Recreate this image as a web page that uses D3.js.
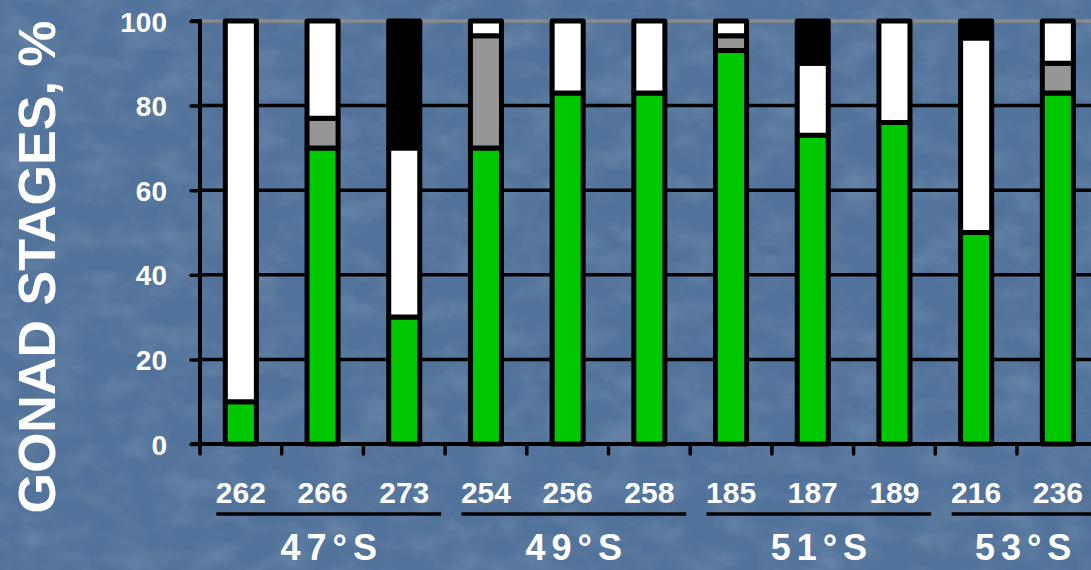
<!DOCTYPE html>
<html>
<head>
<meta charset="utf-8">
<script src="https://cdn.jsdelivr.net/npm/d3@7"></script>
<style>
  html, body { margin: 0; padding: 0; background: #52739a; overflow: hidden; }
  svg { display: block; }
  text { font-family: "Liberation Sans", Arial, sans-serif; font-weight: bold; fill: #fff; }
</style>
</head>
<body>
<div id="chart"></div>
<script>
// Sample numbers (stations) and their latitude groups
const categories = ["262", "266", "273", "254", "256", "258", "185", "187", "189", "216", "236"];
const groupNames = ["47°S", "49°S", "51°S", "53°S"];
const groupIndex = [0, 0, 0, 1, 1, 1, 2, 2, 2, 3, 3];

// Share of each gonad stage, % (stacked bottom to top)
const stageGreen = [10, 70, 30, 70, 83, 83, 93, 73, 76, 50, 83];
const stageGray  = [0, 7, 0, 26.5, 0, 0, 3.5, 0, 0, 0, 7];
const stageWhite = [90, 23, 40, 3.5, 17, 17, 3.5, 17, 24, 46, 10];
const stageBlack = [0, 0, 30, 0, 0, 0, 0, 10, 0, 4, 0];

const yTicks = [0, 20, 40, 60, 80, 100];
const yTitle = "GONAD STAGES, %";

const W = 1091, H = 570;
const svg = d3.select("#chart").append("svg").attr("width", W).attr("height", H);

// Mottled blue backdrop
const defs = svg.append("defs");
const f = defs.append("filter").attr("id", "mottle").attr("x", 0).attr("y", 0).attr("width", 1).attr("height", 1);
f.append("feTurbulence").attr("type", "fractalNoise").attr("baseFrequency", "0.025 0.04").attr("numOctaves", 4).attr("seed", 3);
f.append("feColorMatrix").attr("type", "matrix")
  .attr("values", "0 0 0 0 1  0 0 0 0 1  0 0 0 0 1  1.6 0 0 0 -0.62");
svg.append("rect").attr("width", W).attr("height", H).attr("fill", "#51729a");
svg.append("rect").attr("width", W).attr("height", H).attr("filter", "url(#mottle)").attr("opacity", 0.15);

const x0 = 200, y0 = 444, yTop = 21;
const x = d3.scaleBand().domain(categories).range([x0, x0 + categories.length * 81.7]).padding(0);
const y = d3.scaleLinear().domain([0, 100]).range([y0, yTop]);
const barW = x.step() * 0.38;

// Horizontal gridlines (top one grey)
svg.append("g").selectAll("line").data(yTicks.filter(d => d > 0)).join("line")
  .attr("x1", x0).attr("x2", W)
  .attr("y1", d => y(d)).attr("y2", d => y(d))
  .attr("stroke", d => d === 100 ? "#8a8a8a" : "#000")
  .attr("stroke-width", 3.5);

// Y axis
const yAxis = svg.append("g").attr("transform", `translate(${x0},0)`)
  .call(d3.axisLeft(y).tickValues(yTicks).tickSize(9).tickPadding(24));
yAxis.select(".domain").attr("stroke", "#000").attr("stroke-width", 4).attr("d", `M-9,${yTop}H0V${y0}`);
yAxis.selectAll(".tick line").attr("stroke", "#000").attr("stroke-width", 3.5).attr("stroke-linecap", "round");
yAxis.selectAll(".tick text").attr("font-size", 28).attr("fill", "#fff").attr("dy", "0.36em")
  .style("font-family", "'Liberation Sans', Arial, sans-serif").style("font-weight", "bold");

// Stacked bars
const stages = [
  { key: "green", values: stageGreen, color: "#00c800" },
  { key: "gray",  values: stageGray,  color: "#969696" },
  { key: "white", values: stageWhite, color: "#ffffff" },
  { key: "black", values: stageBlack, color: "#000000" }
];
const rows = categories.map((c, i) => {
  const r = { cat: c };
  stages.forEach(s => r[s.key] = s.values[i]);
  return r;
});
const stack = d3.stack().keys(stages.map(s => s.key))(rows);
const barG = svg.append("g");
stack.forEach((layer, li) => {
  barG.append("g").selectAll("rect")
    .data(layer.filter(d => d[1] - d[0] > 0))
    .join("rect")
    .attr("x", d => x(d.data.cat) + (x.step() - barW) / 2)
    .attr("width", barW)
    .attr("y", d => y(d[1]))
    .attr("height", d => y(d[0]) - y(d[1]))
    .attr("fill", stages[li].color)
    .attr("stroke", "#000")
    .attr("stroke-width", 5)
    .attr("stroke-linejoin", "round");
});

// X axis with ticks between stations
const boundaries = categories.map(c => x(c));
const xAxis = svg.append("g");
xAxis.append("line").attr("x1", x0 - 9).attr("x2", W).attr("y1", y0).attr("y2", y0)
  .attr("stroke", "#000").attr("stroke-width", 4);
xAxis.selectAll("line.tk").data(boundaries.concat([x.range()[1]])).join("line").attr("class", "tk")
  .attr("x1", d => d).attr("x2", d => d).attr("y1", y0).attr("y2", y0 + 10)
  .attr("stroke", "#000").attr("stroke-width", 3.5).attr("stroke-linecap", "round");

// Station labels
svg.append("g").selectAll("text").data(categories).join("text")
  .attr("x", d => x(d) + x.step() / 2).attr("y", 503)
  .attr("text-anchor", "middle").attr("font-size", 30).text(d => d);

// Latitude groups: underline + label
groupNames.forEach((g, gi) => {
  const members = categories.filter((c, i) => groupIndex[i] === gi);
  const gx1 = x(members[0]) + x.step() * 0.2;
  const gx2 = x(members[members.length - 1]) + x.step() * 0.95;
  svg.append("line").attr("x1", gx1).attr("x2", gx2).attr("y1", 514).attr("y2", 514)
    .attr("stroke", "#000").attr("stroke-width", 3.5);
  svg.append("text").attr("x", (gx1 + gx2) / 2 + 3).attr("y", 560)
    .attr("text-anchor", "middle").attr("font-size", 36).attr("letter-spacing", 6).text(g);
});

// Y axis title
svg.append("text").attr("transform", "translate(55,267) rotate(-90)")
  .attr("text-anchor", "middle").attr("font-size", 52).text(yTitle);
</script>
</body>
</html>
